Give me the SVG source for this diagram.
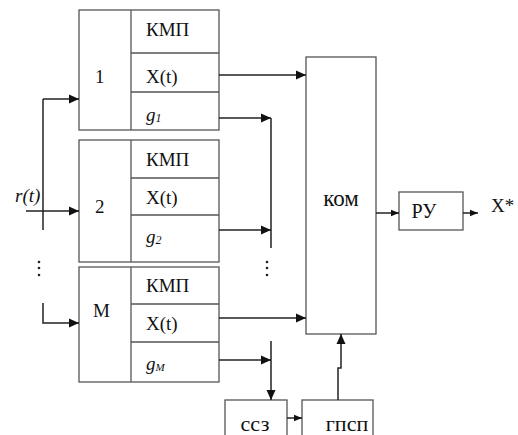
<svg xmlns="http://www.w3.org/2000/svg" width="518" height="435" viewBox="0 0 518 435">
<style>
.box{fill:#fff;stroke:#555;stroke-width:1.3}
.ln{fill:none;stroke:#222;stroke-width:1.5}
.dot{fill:#222}
</style>
<defs>
<marker id="ah" viewBox="0 0 10 10" refX="10" refY="5" markerWidth="10" markerHeight="10" markerUnits="userSpaceOnUse" orient="auto">
<path d="M0,0.5 L10,5 L0,9.5 Z" fill="#111"/>
</marker>
<marker id="as" viewBox="0 0 10 10" refX="10" refY="5" markerWidth="8" markerHeight="8" markerUnits="userSpaceOnUse" orient="auto">
<path d="M0,1 L10,5 L0,9 Z" fill="#111"/>
</marker>
</defs>
<rect width="518" height="435" fill="#fff"/>
<g font-family="'Times New Roman', 'Liberation Serif', Tinos, 'Noto Serif', 'DejaVu Serif', serif" font-size="19" fill="#111">

<g id="block1">
<rect class="box" x="79" y="10" width="140" height="120"/>
<line class="box" x1="131" y1="10" x2="131" y2="130"/>
<line class="box" x1="131" y1="53" x2="219" y2="53"/>
<line class="box" x1="131" y1="92" x2="219" y2="92"/>
<text x="95" y="83">1</text>
<text x="146" y="36">КМП</text>
<text x="146" y="83">X(t)</text>
<text font-style="italic" x="146" y="121">g<tspan font-size="12" dy="1">1</tspan></text>
</g>

<g id="block2">
<rect class="box" x="79" y="140" width="140" height="122"/>
<line class="box" x1="131" y1="140" x2="131" y2="262"/>
<line class="box" x1="131" y1="178" x2="219" y2="178"/>
<line class="box" x1="131" y1="215" x2="219" y2="215"/>
<text x="95" y="213">2</text>
<text x="146" y="166">КМП</text>
<text x="146" y="204">X(t)</text>
<text font-style="italic" x="146" y="243">g<tspan font-size="12" dy="1">2</tspan></text>
</g>

<g id="blockM">
<rect class="box" x="79" y="267" width="140" height="115"/>
<line class="box" x1="131" y1="267" x2="131" y2="382"/>
<line class="box" x1="131" y1="304" x2="219" y2="304"/>
<line class="box" x1="131" y1="342" x2="219" y2="342"/>
<text x="93" y="317">M</text>
<text x="146" y="292">КМП</text>
<text x="146" y="330">X(t)</text>
<text font-style="italic" x="146" y="370">g<tspan font-size="11" dy="1">M</tspan></text>
</g>

<g id="kom">
<rect class="box" x="306" y="57" width="70" height="277"/>
<text x="341" y="206" text-anchor="middle" font-size="23">ком</text>
</g>

<g id="ru">
<rect class="box" x="399" y="192" width="64" height="38"/>
<text x="424" y="218" text-anchor="middle" font-size="20">РУ</text>
</g>

<g id="ssz">
<rect class="box" x="225" y="400" width="62" height="40"/>
<text x="255" y="431" text-anchor="middle" font-size="22">ссз</text>
</g>

<g id="gpsp">
<rect class="box" x="302" y="400" width="71" height="40"/>
<text x="347" y="431" text-anchor="middle" font-size="22">гпсп</text>
</g>

<g id="labels">
<text font-style="italic" x="15" y="202">r(t)</text>
<text x="491" y="212">X*</text>
<circle class="dot" cx="39" cy="262" r="1.3"/>
<circle class="dot" cx="39" cy="268" r="1.3"/>
<circle class="dot" cx="39" cy="275" r="1.3"/>
<circle class="dot" cx="267" cy="262" r="1.3"/>
<circle class="dot" cx="267" cy="268" r="1.3"/>
<circle class="dot" cx="267" cy="275" r="1.3"/>
</g>
</g>

<g id="connectors">
<line class="ln" x1="43" y1="99" x2="43" y2="230"/>
<line class="ln" x1="43" y1="99" x2="79" y2="99" marker-end="url(#ah)"/>
<line class="ln" x1="26" y1="211" x2="79" y2="211" marker-end="url(#ah)"/>
<polyline class="ln" points="43,303 43,323 79,323" marker-end="url(#ah)"/>

<line class="ln" x1="219" y1="75" x2="306" y2="75" marker-end="url(#ah)"/>
<line class="ln" x1="219" y1="318" x2="306" y2="318" marker-end="url(#ah)"/>

<line class="ln" x1="219" y1="118" x2="271" y2="118" marker-end="url(#ah)"/>
<line class="ln" x1="219" y1="230" x2="271" y2="230" marker-end="url(#ah)"/>
<line class="ln" x1="271" y1="118" x2="271" y2="248"/>
<line class="ln" x1="219" y1="360" x2="271" y2="360" marker-end="url(#ah)"/>
<line class="ln" x1="271" y1="341" x2="271" y2="400" marker-end="url(#ah)"/>

<line class="ln" x1="376" y1="213" x2="399" y2="213" marker-end="url(#as)"/>
<line class="ln" x1="463" y1="213" x2="478" y2="213" marker-end="url(#as)"/>
<line class="ln" x1="287" y1="418" x2="302" y2="418" marker-end="url(#as)"/>
<polyline class="ln" points="338,400 338,368 341,368 341,334" marker-end="url(#ah)"/>
</g>
</svg>
